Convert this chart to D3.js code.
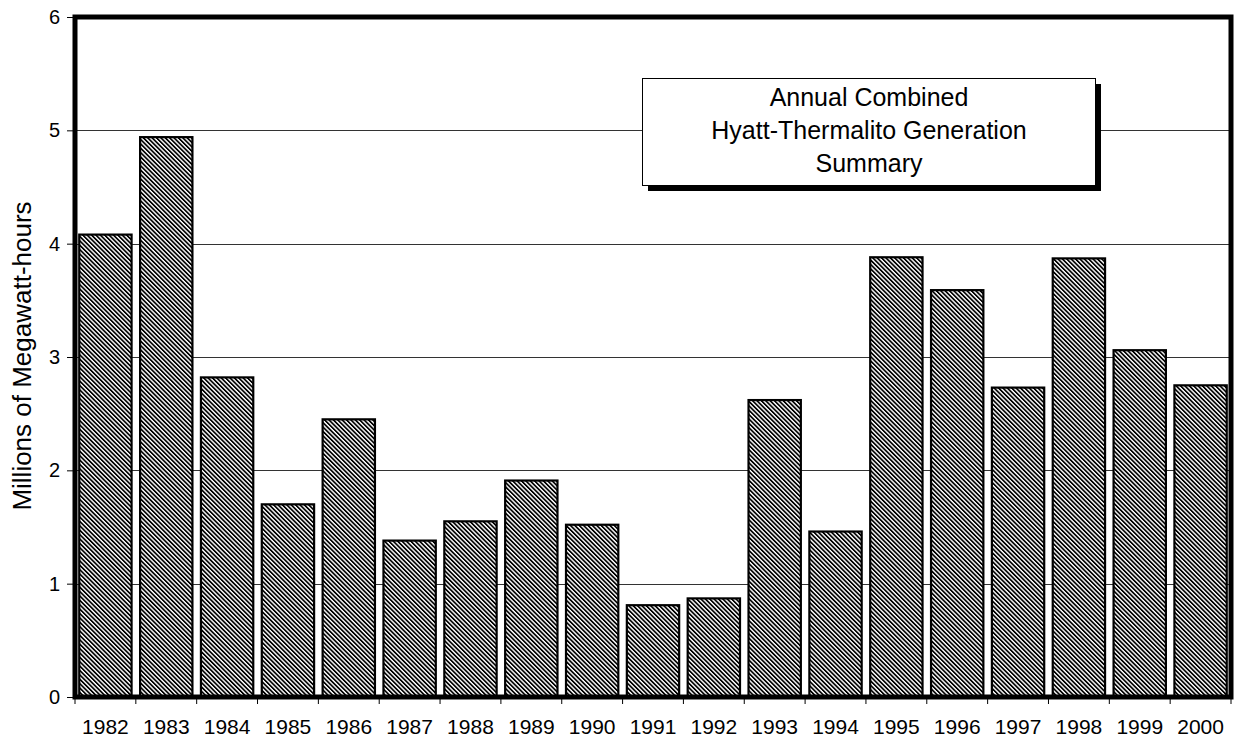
<!DOCTYPE html>
<html lang="en">
<head>
	<meta charset="utf-8">
	<title>Hyatt-Thermalito Generation</title>
	<script src="https://d3js.org/d3.v7.min.js"></script>
	<style>
		body { margin: 0; background: #fff; }
		text { font-family: Arial, "Liberation Sans", sans-serif; fill: #000; }
	</style>
</head>
<body>
	<script>

	// data (millions of MWh)
	var years = ["1982", "1983", "1984", "1985", "1986", "1987", "1988", "1989", "1990", "1991",
	             "1992", "1993", "1994", "1995", "1996", "1997", "1998", "1999", "2000"];
	var generation = [4.08, 4.94, 2.82, 1.70, 2.45, 1.38, 1.55, 1.91, 1.52, 0.81,
	                  0.87, 2.62, 1.46, 3.88, 3.59, 2.73, 3.87, 3.06, 2.75];
	var yTicks = [0, 1, 2, 3, 4, 5, 6];
	var titleLines = ["Annual Combined", "Hyatt-Thermalito Generation", "Summary"];

	var width = 1243,
	    height = 741;

	// plot area edges (note: "top" is taken by window.top)
	var plotLeft = 75, plotRight = 1231, plotTop = 17, plotBottom = 697;

	var svg = d3.select("body").append("svg")
	    .attr("width", width)
	    .attr("height", height);

	// diagonal hatch like the old excel fill
	svg.append("defs").append("pattern")
	    .attr("id", "hatch")
	    .attr("patternUnits", "userSpaceOnUse")
	    .attr("width", 3.1)
	    .attr("height", 3.1)
	    .attr("patternTransform", "rotate(-45)")
	  .call(function(p) {
	    p.append("rect").attr("width", 3.1).attr("height", 3.1).attr("fill", "#fff");
	    p.append("rect").attr("width", 1.7).attr("height", 3.1).attr("fill", "#000");
	  });

	var x = d3.scaleBand()
	    .domain(years)
	    .range([plotLeft, plotRight])
	    .paddingInner(0.14)
	    .paddingOuter(0.07);

	var y = d3.scaleLinear()
	    .domain([0, 6])
	    .range([plotBottom, plotTop]);

	// gridlines
	svg.append("g")
	    .selectAll("line")
	    .data(yTicks.slice(1, -1))
	    .enter().append("line")
	    .attr("x1", plotLeft)
	    .attr("x2", plotRight)
	    .attr("y1", function(d) { return Math.round(y(d)) + 0.5; })
	    .attr("y2", function(d) { return Math.round(y(d)) + 0.5; })
	    .attr("stroke", "#333")
	    .attr("stroke-width", 1);

	// bars
	svg.append("g")
	    .selectAll("rect")
	    .data(generation)
	    .enter().append("rect")
	    .attr("x", function(d, i) { return x(years[i]); })
	    .attr("y", function(d) { return y(d); })
	    .attr("width", x.bandwidth())
	    .attr("height", function(d) { return y(0) - y(d); })
	    .attr("fill", "url(#hatch)")
	    .attr("stroke", "#000")
	    .attr("stroke-width", 2.2);

	// y axis
	var yAxis = svg.append("g")
	    .attr("transform", "translate(" + plotLeft + ",0)")
	    .call(d3.axisLeft(y).tickValues(yTicks).tickSize(8).tickPadding(7).tickFormat(d3.format("d")));
	yAxis.select(".domain").remove();
	yAxis.selectAll("line").attr("stroke", "#000");
	yAxis.selectAll("text").attr("font-size", "20px").attr("font-family", "Arial, 'Liberation Sans', sans-serif");

	// x axis, ticks at the category edges
	var edges = years.map(function(d) { return x(d) - x.step() * x.paddingInner() / 2; }).concat([plotRight]);
	svg.append("g")
	    .selectAll("line")
	    .data(edges)
	    .enter().append("line")
	    .attr("x1", function(d) { return d; })
	    .attr("x2", function(d) { return d; })
	    .attr("y1", plotBottom)
	    .attr("y2", plotBottom + 7)
	    .attr("stroke", "#000");

	svg.append("g")
	    .selectAll("text")
	    .data(years)
	    .enter().append("text")
	    .attr("x", function(d) { return x(d) + x.bandwidth() / 2; })
	    .attr("y", 734)
	    .attr("text-anchor", "middle")
	    .attr("font-size", "21px")
	    .text(function(d) { return d; });

	// plot border
	svg.append("rect")
	    .attr("x", plotLeft)
	    .attr("y", plotTop)
	    .attr("width", plotRight - plotLeft)
	    .attr("height", plotBottom - plotTop)
	    .attr("fill", "none")
	    .attr("stroke", "#000")
	    .attr("stroke-width", 5);

	svg.append("text")
	    .attr("transform", "translate(31,356) rotate(-90)")
	    .attr("text-anchor", "middle")
	    .attr("font-size", "26px")
	    .text("Millions of Megawatt-hours");

	// title box with drop shadow
	var box = svg.append("g");
	box.append("rect")
	    .attr("x", 648).attr("y", 84)
	    .attr("width", 453).attr("height", 107)
	    .attr("fill", "#000");
	box.append("rect")
	    .attr("x", 642.5).attr("y", 78.5)
	    .attr("width", 453).attr("height", 107)
	    .attr("fill", "#fff")
	    .attr("stroke", "#000")
	    .attr("stroke-width", 1);
	box.selectAll("text")
	    .data(titleLines)
	    .enter().append("text")
	    .attr("x", 869)
	    .attr("y", function(d, i) { return 106 + i * 33; })
	    .attr("text-anchor", "middle")
	    .attr("font-size", "25px")
	    .text(function(d) { return d; });

	</script>
</body>
</html>
